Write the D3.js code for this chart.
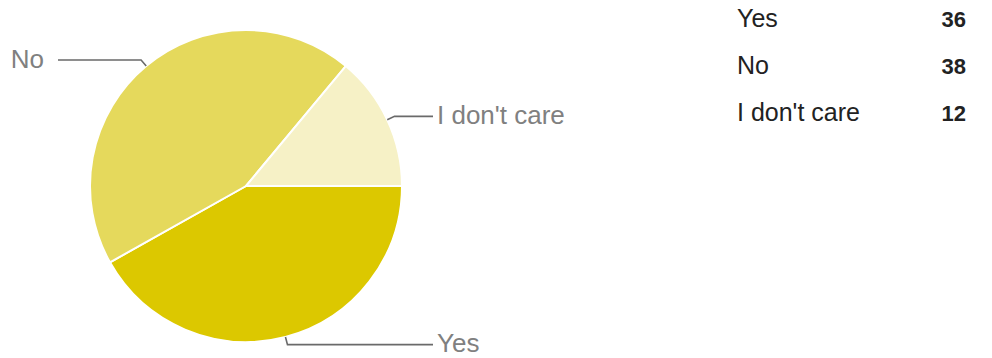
<!DOCTYPE html>
<html>
<head>
<meta charset="utf-8">
<script src="https://cdn.jsdelivr.net/npm/d3@7/dist/d3.min.js"></script>
<style>
  html, body { margin: 0; padding: 0; background: #fff; }
  svg { display: block; }
</style>
</head>
<body>
<svg id="chart" width="992" height="358"></svg>
<script>
const categories = ["Yes", "No", "I don't care"];
const values = [36, 38, 12];
const colors = ["#dcc800", "#e5d95c", "#f6f1c6"];

const W = 992, H = 358;
const cx = 246, cy = 186, R = 156;

const svg = d3.select("#chart");
const data = categories.map((c, i) => ({ name: c, value: values[i], color: colors[i] }));

const pie = d3.pie().value(d => d.value).sort(null)
  .startAngle(Math.PI / 2).endAngle(Math.PI / 2 + 2 * Math.PI);
const arcs = pie(data);
const arc = d3.arc().innerRadius(0).outerRadius(R);

const g = svg.append("g").attr("transform", `translate(${cx},${cy})`);
g.selectAll("path.slice").data(arcs).enter().append("path")
  .attr("class", "slice")
  .attr("d", arc)
  .attr("fill", d => d.data.color)
  .attr("stroke", "#ffffff")
  .attr("stroke-width", 2);

// leader lines and labels
const labelFont = "Arial, 'Liberation Sans', sans-serif";
arcs.forEach(a => {
  const mid = (a.startAngle + a.endAngle) / 2;
  const px = Math.sin(mid) * R, py = -Math.cos(mid) * R;
  const ex = Math.sin(mid) * (R + 8), ey = -Math.cos(mid) * (R + 8);
  const right = Math.sin(mid) > 0;
  const endX = right ? 433 - cx : 58 - cx;
  g.append("path")
    .attr("d", `M${px},${py}L${ex},${ey}L${endX},${ey}`)
    .attr("fill", "none")
    .attr("stroke", "#6a6a6a")
    .attr("stroke-width", 1.6);
  g.append("text")
    .attr("x", right ? endX + 4 : endX - 14)
    .attr("y", ey)
    .attr("dy", "0.3em")
    .attr("text-anchor", right ? "start" : "end")
    .attr("font-family", labelFont)
    .attr("font-size", 26)
    .attr("fill", "#808080")
    .text(a.data.name);
});

// legend table at right
const legend = svg.append("g");
const rowY = d3.scalePoint().domain(categories).range([27, 121]);
data.forEach(d => {
  legend.append("text")
    .attr("x", 737).attr("y", rowY(d.name))
    .attr("font-family", labelFont).attr("font-size", 25)
    .attr("fill", "#222")
    .text(d.name);
  legend.append("text")
    .attr("x", 966).attr("y", rowY(d.name))
    .attr("text-anchor", "end")
    .attr("font-family", labelFont).attr("font-size", 22)
    .attr("font-weight", "bold")
    .attr("fill", "#222")
    .text(d.value);
});
</script>
</body>
</html>
